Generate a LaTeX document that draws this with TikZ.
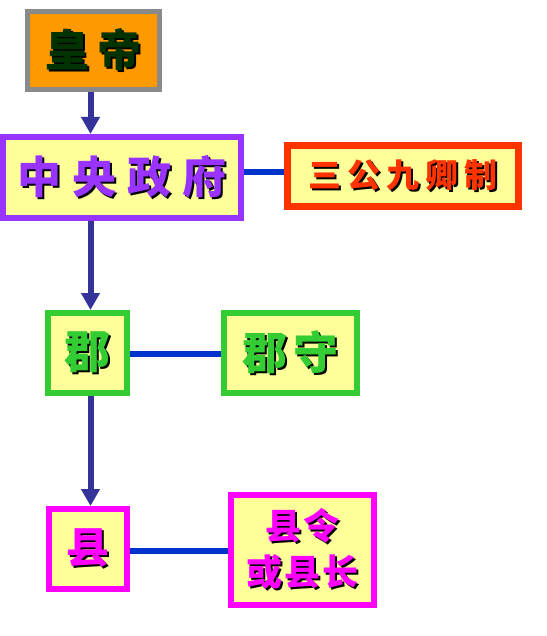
\documentclass[tikz,border=0pt]{standalone}
\usepackage{fontspec}
\newfontfamily\cjk{Noto Sans CJK SC}
\usetikzlibrary{arrows.meta}
\definecolor{navyarrow}{HTML}{333399}
\definecolor{linkblue}{HTML}{0033CC}
\definecolor{boxfill}{HTML}{FFFF99}
\definecolor{orangefill}{HTML}{FF9900}
\definecolor{grayborder}{HTML}{8A8A8A}
\definecolor{darkgreentext}{HTML}{003300}
\definecolor{purpleb}{HTML}{9933FF}
\definecolor{redb}{HTML}{FF3300}
\definecolor{greenb}{HTML}{33CC33}
\definecolor{magentab}{HTML}{FF00FF}
\newcommand\shtext[2]{\leavevmode\rlap{\kern2pt\raisebox{-2pt}{\color{black}#2}}{\color{#1}#2}}
\newcommand\fsz[1]{\fontsize{#1}{#1}\selectfont}
\tikzset{
  box/.style={draw, fill=boxfill, inner sep=0pt},
  arr/.style={draw=navyarrow, line width=6pt, -{Triangle[width=18pt,length=17pt]}},
  link/.style={draw=linkblue, line width=6pt}
}
\begin{document}
\begin{tikzpicture}[x=1pt,y=-1pt]
\useasboundingbox (0,0) rectangle (546,636);
% boxes
\node[box, draw=grayborder, fill=orangefill, line width=5pt, minimum width=132pt, minimum height=78pt,
  font=\cjk\bfseries\fsz{44}] (emperor) at (93.5,50.5)
  {\shtext{darkgreentext}{皇\hspace{8pt}帝}};
\node[box, draw=purpleb, line width=6pt, minimum width=238pt, minimum height=81pt,
  font=\cjk\bfseries\fsz{44}] (central) at (122,177.5)
  {\shtext{purpleb}{中\hspace{11pt}央\hspace{11pt}政\hspace{11pt}府}};
\node[box, draw=redb, line width=7pt, minimum width=231pt, minimum height=61pt,
  font=\cjk\bfseries\fsz{33}] (sangong) at (403,176)
  {\shtext{redb}{三\hspace{6pt}公\hspace{6pt}九\hspace{6pt}卿\hspace{6pt}制}};
\node[box, draw=greenb, line width=6pt, minimum width=79pt, minimum height=80pt,
  font=\cjk\bfseries\fsz{46}] (jun) at (87.5,353)
  {\shtext{greenb}{郡}};
\node[box, draw=greenb, line width=6pt, minimum width=133pt, minimum height=80pt,
  font=\cjk\bfseries\fsz{45}] (junshou) at (290.5,353)
  {\shtext{greenb}{郡\hspace{7pt}守}};
\node[box, draw=magentab, line width=6pt, minimum width=78pt, minimum height=80pt,
  font=\cjk\bfseries\fsz{43}] (xian) at (88,549)
  {\shtext{magentab}{县}};
\node[box, draw=magentab, line width=6pt, minimum width=143pt, minimum height=110pt, align=center,
  font=\cjk\bfseries\fontsize{36}{46}\selectfont] (xianling) at (302.5,550)
  {\shtext{magentab}{县\hspace{3pt}令}\\\shtext{magentab}{或\hspace{2pt}县\hspace{2pt}长}};
% helper coordinates
\coordinate (ax) at (90.5,0);
\coordinate (y1) at (0,172);
\coordinate (y2) at (0,354);
\coordinate (y3) at (0,551);
% arrows
\draw[arr] (emperor.south -| ax) -- (central.north -| ax);
\draw[arr] (central.south -| ax) -- (jun.north -| ax);
\draw[arr] (jun.south -| ax) -- (xian.north -| ax);
% links
\draw[link] (central.east |- y1) -- (sangong.west |- y1);
\draw[link] (jun.east |- y2) -- (junshou.west |- y2);
\draw[link] (xian.east |- y3) -- (xianling.west |- y3);
\end{tikzpicture}
\end{document}
